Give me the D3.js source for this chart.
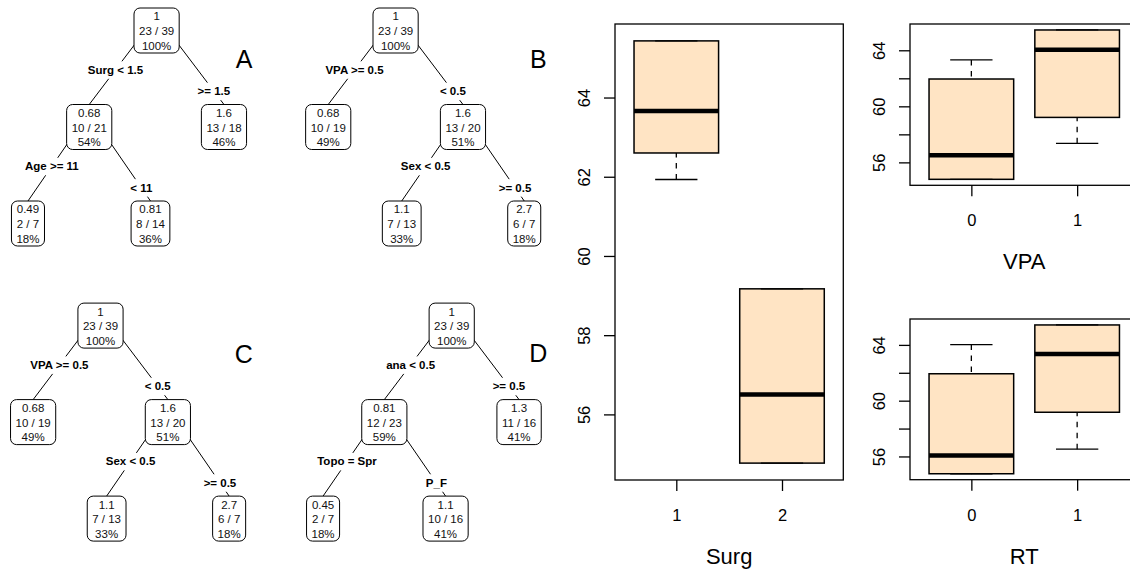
<!DOCTYPE html>
<html>
<head>
<meta charset="utf-8">
<script src="https://cdn.jsdelivr.net/npm/d3@7"></script>
<style>
    body { margin: 0; background: #fff; }
    svg { display: block; }
</style>
</head>
<body>
<div id="chart"></div>
<script>
// Tree nodes (rpart numbering: children of n are 2n and 2n+1)
const treeA = [
    { id: 1, parent: null, yval: "1",    count: "23 / 39", pct: "100%", split: null },
    { id: 2, parent: 1,    yval: "0.68", count: "10 / 21", pct: "54%",  split: "Surg < 1.5" },
    { id: 3, parent: 1,    yval: "1.6",  count: "13 / 18", pct: "46%",  split: ">= 1.5" },
    { id: 4, parent: 2,    yval: "0.49", count: "2 / 7",   pct: "18%",  split: "Age >= 11" },
    { id: 5, parent: 2,    yval: "0.81", count: "8 / 14",  pct: "36%",  split: "< 11" }
]
const treeB = [
    { id: 1, parent: null, yval: "1",    count: "23 / 39", pct: "100%", split: null },
    { id: 2, parent: 1,    yval: "0.68", count: "10 / 19", pct: "49%",  split: "VPA >= 0.5" },
    { id: 3, parent: 1,    yval: "1.6",  count: "13 / 20", pct: "51%",  split: "< 0.5" },
    { id: 6, parent: 3,    yval: "1.1",  count: "7 / 13",  pct: "33%",  split: "Sex < 0.5" },
    { id: 7, parent: 3,    yval: "2.7",  count: "6 / 7",   pct: "18%",  split: ">= 0.5" }
]
const treeC = [
    { id: 1, parent: null, yval: "1",    count: "23 / 39", pct: "100%", split: null },
    { id: 2, parent: 1,    yval: "0.68", count: "10 / 19", pct: "49%",  split: "VPA >= 0.5" },
    { id: 3, parent: 1,    yval: "1.6",  count: "13 / 20", pct: "51%",  split: "< 0.5" },
    { id: 6, parent: 3,    yval: "1.1",  count: "7 / 13",  pct: "33%",  split: "Sex < 0.5" },
    { id: 7, parent: 3,    yval: "2.7",  count: "6 / 7",   pct: "18%",  split: ">= 0.5" }
]
const treeD = [
    { id: 1, parent: null, yval: "1",    count: "23 / 39", pct: "100%", split: null },
    { id: 2, parent: 1,    yval: "0.81", count: "12 / 23", pct: "59%",  split: "ana < 0.5" },
    { id: 3, parent: 1,    yval: "1.3",  count: "11 / 16", pct: "41%",  split: ">= 0.5" },
    { id: 4, parent: 2,    yval: "0.45", count: "2 / 7",   pct: "18%",  split: "Topo = Spr" },
    { id: 5, parent: 2,    yval: "1.1",  count: "10 / 16", pct: "41%",  split: "P_F" }
]

// Boxplot five-number summaries: [lower whisker, Q1, median, Q3, upper whisker]
const surgGroups = ["1", "2"]
const surgStats = [
    [61.93, 62.60, 63.66, 65.43, 65.43],
    [54.77, 54.77, 56.50, 59.17, 59.17]
]
const vpaGroups = ["0", "1"]
const vpaStats = [
    [54.79, 54.79, 56.50, 61.95, 63.31],
    [57.36, 59.21, 64.04, 65.45, 65.45]
]
const rtGroups = ["0", "1"]
const rtStats = [
    [54.76, 54.76, 56.07, 61.93, 64.02],
    [56.52, 59.17, 63.34, 65.43, 65.43]
]
const surgTicks = [56, 58, 60, 62, 64]
const surgTickLabels = [56, 58, 60, 62, 64]
const smallTicks = [56, 58, 60, 62, 64]
const smallTickLabels = [56, 60, 64]

const width = 1130
const height = 572
const fontFamily = "'Liberation Sans', Arial, Helvetica, sans-serif"

const svg = d3.select("#chart").append("svg")
    .attr("width", width)
    .attr("height", height)
    .style("font-family", fontFamily)

svg.append("rect").attr("width", width).attr("height", height).attr("fill", "#fff")

function drawTree(rows, letter, rootX, rootY, letterX, letterY)
{
    const root = d3.stratify().id(d => d.id).parentId(d => d.parent)(rows)
    d3.tree().nodeSize([1, 1]).separation((a, b) => a.depth === 1 ? 1.1 : 1)(root)

    const x = d3.scaleLinear().domain([0, 1]).range([rootX, rootX + 122.5])
    const y = d3.scaleLinear().domain([0, 1]).range([rootY, rootY + 96.5])
    const boxH = 45

    const g = svg.append("g")

    // branches run from inside the parent box to the top of the child box
    const links = root.links()
    g.selectAll("line.branch")
        .data(links)
        .join("line")
        .attr("class", "branch")
        .attr("x1", d => x(d.source.x))
        .attr("y1", d => y(d.source.y) - 15)
        .attr("x2", d => x(d.target.x))
        .attr("y2", d => y(d.target.y) - boxH / 2)
        .attr("stroke", "#000")
        .attr("stroke-width", 1)

    // split labels sit on the branch, with a white patch behind them
    links.forEach(l => {
        const first = l.source.children[0] === l.target
        const t = first ? 0.61 : 0.85
        const x1 = x(l.source.x), y1 = y(l.source.y) - 15
        const x2 = x(l.target.x), y2 = y(l.target.y) - boxH / 2
        const lx = x1 + (x2 - x1) * t
        const ly = y1 + (y2 - y1) * t
        const lab = g.append("g")
        const txt = lab.append("text")
            .attr("x", lx)
            .attr("y", ly + 4.1)
            .attr("text-anchor", "middle")
            .attr("font-size", 11.5)
            .attr("font-weight", "bold")
            .attr("fill", "#000")
            .text(l.target.data.split)
        const w = txt.node().getComputedTextLength()
        lab.insert("rect", "text")
            .attr("x", lx - w / 2 - 2)
            .attr("y", ly - 8.5)
            .attr("width", w + 4)
            .attr("height", 17.5)
            .attr("fill", "#fff")
    })

    // nodes
    root.descendants().forEach(n => {
        const cx = x(n.x), cy = y(n.y)
        const ng = g.append("g")
        const lines = [n.data.yval, n.data.count, n.data.pct]
        const offs = [-14.2, 0.6, 15.2]
        const texts = lines.map((s, i) => ng.append("text")
            .attr("x", cx)
            .attr("y", cy + offs[i] + 4.1)
            .attr("text-anchor", "middle")
            .attr("font-size", 11.5)
            .attr("fill", "#111")
            .text(s))
        const w = d3.max(texts, t => t.node().getComputedTextLength())
        ng.insert("rect", "text")
            .attr("x", cx - w / 2 - 5)
            .attr("y", cy - boxH / 2)
            .attr("width", w + 10)
            .attr("height", boxH)
            .attr("rx", 6)
            .attr("fill", "#fff")
            .attr("stroke", "#000")
            .attr("stroke-width", 1)
    })

    svg.append("text")
        .attr("x", letterX)
        .attr("y", letterY + 9)
        .attr("text-anchor", "middle")
        .attr("font-size", 25)
        .attr("fill", "#000")
        .text(letter)
}

function drawBoxplot(groups, stats, ticks, tickLabels, title, left, right, top, bottom)
{
    const [lo, hi] = d3.extent(stats.flat())
    const pad = (hi - lo) * 0.04
    const yScale = d3.scaleLinear().domain([lo - pad, hi + pad]).range([bottom, top])
    const xPad = groups.length * 0.04
    const xScale = d3.scaleLinear()
        .domain([0.5 - xPad, groups.length + 0.5 + xPad])
        .range([left, right])

    const g = svg.append("g")

    stats.forEach((s, i) => {
        const at = i + 1
        const [wlo, q1, med, q3, whi] = s
        // whiskers, drawn from the whisker end towards the box
        g.append("line")
            .attr("x1", xScale(at)).attr("x2", xScale(at))
            .attr("y1", yScale(wlo)).attr("y2", yScale(q1))
            .attr("stroke", "#000").attr("stroke-width", 1.3)
            .attr("stroke-dasharray", "5.5,5.5")
        g.append("line")
            .attr("x1", xScale(at)).attr("x2", xScale(at))
            .attr("y1", yScale(whi)).attr("y2", yScale(q3))
            .attr("stroke", "#000").attr("stroke-width", 1.3)
            .attr("stroke-dasharray", "5.5,5.5")
        // box
        g.append("rect")
            .attr("x", xScale(at - 0.4))
            .attr("y", yScale(q3))
            .attr("width", xScale(at + 0.4) - xScale(at - 0.4))
            .attr("height", yScale(q1) - yScale(q3))
            .attr("fill", "#FFE4C4")
            .attr("stroke", "#000")
            .attr("stroke-width", 1.5)
        // staples
        ;[wlo, whi].forEach(v => g.append("line")
            .attr("x1", xScale(at - 0.2)).attr("x2", xScale(at + 0.2))
            .attr("y1", yScale(v)).attr("y2", yScale(v))
            .attr("stroke", "#000").attr("stroke-width", 1.3))
        // median
        g.append("line")
            .attr("x1", xScale(at - 0.4)).attr("x2", xScale(at + 0.4))
            .attr("y1", yScale(med)).attr("y2", yScale(med))
            .attr("stroke", "#000").attr("stroke-width", 4.5)
    })

    // frame
    g.append("rect")
        .attr("x", left).attr("y", top)
        .attr("width", right - left).attr("height", bottom - top)
        .attr("fill", "none")
        .attr("stroke", "#000")
        .attr("stroke-width", 1.3)

    // y axis with rotated labels
    const yAxis = g.append("g")
        .attr("transform", `translate(${left}, 0)`)
        .call(d3.axisLeft(yScale)
            .tickValues(ticks)
            .tickSize(11)
            .tickFormat(d => tickLabels.includes(d) ? d : ""))
    yAxis.select(".domain").remove()
    yAxis.selectAll("line").attr("stroke", "#000").attr("stroke-width", 1.3)
    yAxis.selectAll("text")
        .attr("x", null)
        .attr("dy", null)
        .attr("text-anchor", "middle")
        .attr("transform", "translate(-25, 0) rotate(-90)")
        .attr("font-size", 16.5)
        .attr("font-family", fontFamily)
        .attr("fill", "#000")

    // x axis
    const xAxis = g.append("g")
        .attr("transform", `translate(0, ${bottom})`)
        .call(d3.axisBottom(xScale)
            .tickValues(groups.map((d, i) => i + 1))
            .tickSize(11)
            .tickFormat((d, i) => groups[i]))
    xAxis.select(".domain").remove()
    xAxis.selectAll("line").attr("stroke", "#000").attr("stroke-width", 1.3)
    xAxis.selectAll("text")
        .attr("y", 41)
        .attr("dy", null)
        .attr("font-size", 16.5)
        .attr("font-family", fontFamily)
        .attr("fill", "#000")

    svg.append("text")
        .attr("x", (left + right) / 2)
        .attr("y", bottom + 84)
        .attr("text-anchor", "middle")
        .attr("font-size", 22)
        .attr("fill", "#000")
        .text(title)
}

drawTree(treeA, "A", 156.6, 30.5, 244.2, 59.2)
drawTree(treeB, "B", 395.6, 30.5, 538.3, 58.8)
drawTree(treeC, "C", 100.5, 325.6, 243.8, 354)
drawTree(treeD, "D", 451.7, 325.6, 538.3, 353.2)

drawBoxplot(surgGroups, surgStats, surgTicks, surgTickLabels, "Surg", 615, 843.3, 24, 480)
drawBoxplot(vpaGroups, vpaStats, smallTicks, smallTickLabels, "VPA", 910, 1138.5, 24, 185.3)
drawBoxplot(rtGroups, rtStats, smallTicks, smallTickLabels, "RT", 910, 1138.5, 319, 479.7)
</script>
</body>
</html>
